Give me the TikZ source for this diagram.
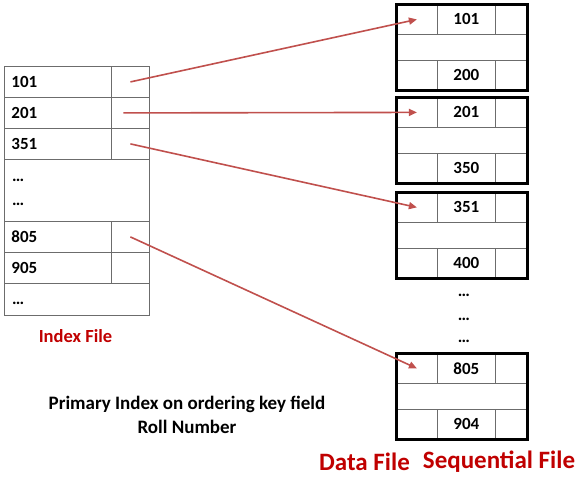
\documentclass[tikz,border=0pt]{standalone}
\usepackage{fontspec}
\setmainfont{Carlito}
\usetikzlibrary{arrows.meta}
\definecolor{linkred}{HTML}{C0504D}
\definecolor{titlered}{HTML}{C00000}

\begin{document}
\begin{tikzpicture}[x=1pt,y=-1pt,font=\bfseries\fontsize{17}{20}\selectfont,
  cell/.style={draw=gray!85!black,line width=.8pt,inner sep=0pt,anchor=north west,minimum height=31pt},
  keycell/.style={cell,text width=93pt,inner xsep=7pt,align=left},
  ptrcell/.style={cell,minimum width=38pt},
  rec/.style={cell,minimum height=30pt},
  link/.style={draw=linkred,line width=1.6pt,-{Triangle[length=8pt,width=7pt]}}]
 \useasboundingbox (0,0) rectangle (585,480);
 % index file
 \foreach \y/\k/\n in {66/101/1,97/201/2,128/351/3,221/805/4,252/905/5}{
  \node[keycell] (k\n) at (4,\y) {\k};
  \node[ptrcell] (p\n) at (111,\y) {};
 }
 \node[cell,minimum width=145pt,minimum height=62pt] (gap) at (4,159) {};
 \node[keycell,text width=131pt,minimum height=32pt] (last) at (4,283) {};
 \node[anchor=base west,inner sep=0pt] (dotsa) at (12,181) {…};
 \node[anchor=base west,inner sep=0pt] (dotsb) at (12,205) {…};
 \node[anchor=base west,inner sep=0pt] (dotsc) at (12,304) {…};
 % data file blocks
 \foreach \y/\a/\b/\n in {4/101/200/1,97/201/350/2,192/351/400/3,353/805/904/4}{
  \node[rec,minimum width=41pt] (d\n) at (396,\y) {};
  \node[rec,minimum width=58pt] (d\n a) at (437,\y) {\a};
  \node[rec,minimum width=32pt] at (495,\y) {};
  \node[cell,minimum width=131pt,minimum height=26pt] at (396,\y+30) {};
  \node[rec,minimum width=41pt] at (396,\y+56) {};
  \node[rec,minimum width=58pt] (d\n b) at (437,\y+56) {\b};
  \node[rec,minimum width=32pt] at (495,\y+56) {};
  \draw[line width=3pt] (396,\y) rectangle ++(131,86);
 }
 \foreach \y/\n in {296/1,320/2,342/3}
  \node[anchor=base,inner sep=0pt] (more\n) at (464,\y) {…};
 % pointers
 \foreach \n/\s in {1/0,2/-7,3/0,4/0}
  \draw[link,shorten <=\s pt] (p\n.center) -- (d\n.center);
 % captions
 \node[text=titlered,font=\bfseries\fontsize{18.5}{22}\selectfont] (idxname) at (75.5,336) {Index File};
 \node[align=center,font=\bfseries\fontsize{19}{24}\selectfont] (note) at (187,415) {Primary Index on ordering key field\\Roll Number};
 \node[text=titlered,font=\bfseries\fontsize{25}{30}\selectfont] (dataname) at (364.5,462) {Data File};
 \node[text=titlered,font=\bfseries\fontsize{25}{30}\selectfont] (seqname) at (499,462) {Sequential File};
\end{tikzpicture}
\end{document}
